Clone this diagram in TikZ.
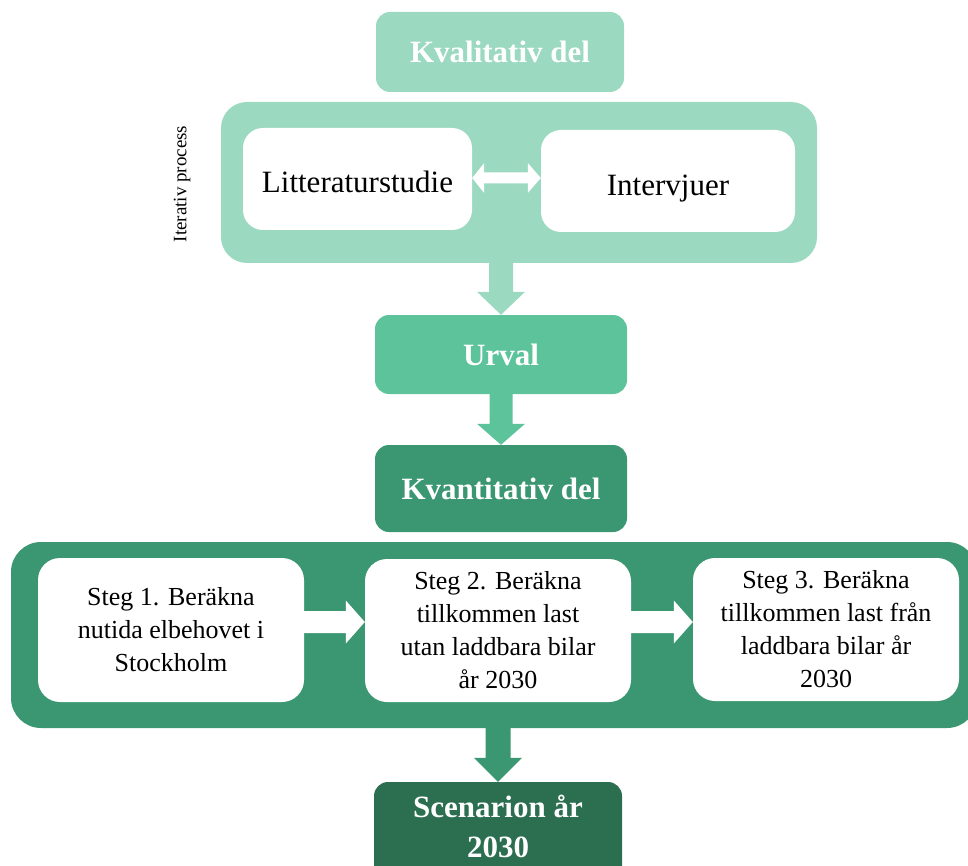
\documentclass[tikz,border=0pt]{standalone}
\usepackage{fontspec}
\setmainfont{Liberation Serif}
\usetikzlibrary{calc}
\definecolor{cLight}{HTML}{9CD9C1}
\definecolor{cMid}{HTML}{5DC39B}
\definecolor{cDark}{HTML}{3A9772}
\definecolor{cDarkest}{HTML}{2C6E50}
\tikzset{
  title/.style={fill=#1, rounded corners=14pt, inner sep=0pt, align=center,
    text=white, font=\fontsize{31}{38}\selectfont\bfseries},
  frame/.style={fill=#1, inner sep=0pt},
  whitebox/.style={fill=white, rounded corners=20pt, inner sep=0pt, align=center,
    font=\fontsize{31}{36}\selectfont},
  stepbox/.style={fill=white, rounded corners=22pt, inner sep=0pt, align=center,
    font=\fontsize{26}{33}\selectfont},
}
\begin{document}
\begin{tikzpicture}[x=1pt, y=-1pt]
\useasboundingbox (0,0) rectangle (968,866);
\clip (0,0) rectangle (968,866);
% top part
\node[title=cLight, minimum width=248pt, minimum height=80pt] (kval) at (500,52) {Kvalitativ del};
\node[frame=cLight, rounded corners=26pt, minimum width=596pt, minimum height=161pt] (cont1) at (519,182.5) {};
\node[whitebox, minimum width=229pt, minimum height=102pt] (lit) at (357.5,179) {\raisebox{-14pt}[0pt][0pt]{Litteraturstudie}};
\node[whitebox, minimum width=254pt, minimum height=102pt] (int) at (668,181) {\raisebox{-15pt}[0pt][0pt]{Intervjuer}};
\node[rotate=90, font=\fontsize{19}{22}\selectfont] (iter) at (182,184) {Iterativ process};
% double arrow
\coordinate (dl) at (lit.east |- 0,178);
\coordinate (dr) at (int.west |- 0,178);
\fill[white] (dl) -- ($(dl)+(12,-15)$) -- ($(dl)+(12,-5.5)$) -- ($(dr)+(-13,-5.5)$) -- ($(dr)+(-13,-15)$)
  -- (dr) -- ($(dr)+(-13,15)$) -- ($(dr)+(-13,5.5)$) -- ($(dl)+(12,5.5)$) -- ($(dl)+(12,15)$) -- cycle;
% urval
\node[title=cMid, minimum width=252pt, minimum height=79pt] (urval) at (501,354.5) {Urval};
\fill[cLight] (urval.north) -- ($(urval.north)+(-24,-23)$) -- ($(urval.north)+(-12,-23)$)
  -- ($(urval.north |- cont1.south)+(-12,0)$) -- ($(urval.north |- cont1.south)+(12,0)$)
  -- ($(urval.north)+(12,-23)$) -- ($(urval.north)+(24,-23)$) -- cycle;
% kvantitativ
\node[title=cDark, minimum width=252pt, minimum height=87pt] (kvant) at (501,488.5) {Kvantitativ del};
\fill[cMid] (kvant.north) -- ($(kvant.north)+(-24,-21)$) -- ($(kvant.north)+(-11.5,-21)$)
  -- ($(kvant.north |- urval.south)+(-11.5,0)$) -- ($(kvant.north |- urval.south)+(11.5,0)$)
  -- ($(kvant.north)+(11.5,-21)$) -- ($(kvant.north)+(24,-21)$) -- cycle;
% bottom container
\node[frame=cDark, rounded corners=30pt, minimum width=966pt, minimum height=186pt] (cont2) at (494,635) {};
\node[stepbox, minimum width=266pt, minimum height=144pt] (s1) at (171,630) {Steg 1. Beräkna\\nutida elbehovet i\\Stockholm};
\node[stepbox, minimum width=266pt, minimum height=143pt] (s2) at (498,630.5) {Steg 2. Beräkna\\tillkommen last\\utan laddbara bilar\\år 2030};
\node[stepbox, minimum width=266pt, minimum height=143pt] (s3) at (826,629.5) {Steg 3. Beräkna\\tillkommen last från\\laddbara bilar år\\2030};
% horizontal arrows
\coordinate (h1) at (s2.west |- 0,622);
\fill[white] (h1) -- ($(h1)+(-19,-21.5)$) -- ($(h1)+(-19,-11)$) -- ($(s1.east |- h1)+(0,-11)$)
  -- ($(s1.east |- h1)+(0,11)$) -- ($(h1)+(-19,11)$) -- ($(h1)+(-19,21.5)$) -- cycle;
\coordinate (h2) at (s3.west |- 0,622);
\fill[white] (h2) -- ($(h2)+(-19,-21.5)$) -- ($(h2)+(-19,-11)$) -- ($(s2.east |- h2)+(0,-11)$)
  -- ($(s2.east |- h2)+(0,11)$) -- ($(h2)+(-19,11)$) -- ($(h2)+(-19,21.5)$) -- cycle;
% scenario
\node[fill=cDarkest, rounded corners=14pt, inner sep=0pt, minimum width=248pt, minimum height=100pt] (scen) at (498,832) {};
\node[text=white, align=center, font=\fontsize{31}{40}\selectfont\bfseries] (scentext) at (498,826) {Scenarion år\\2030};
\fill[cDark] (scen.north) -- ($(scen.north)+(-24,-24)$) -- ($(scen.north)+(-12.5,-24)$)
  -- ($(scen.north |- cont2.south)+(-12.5,0)$) -- ($(scen.north |- cont2.south)+(12.5,0)$)
  -- ($(scen.north)+(12.5,-24)$) -- ($(scen.north)+(24,-24)$) -- cycle;
\end{tikzpicture}
\end{document}
